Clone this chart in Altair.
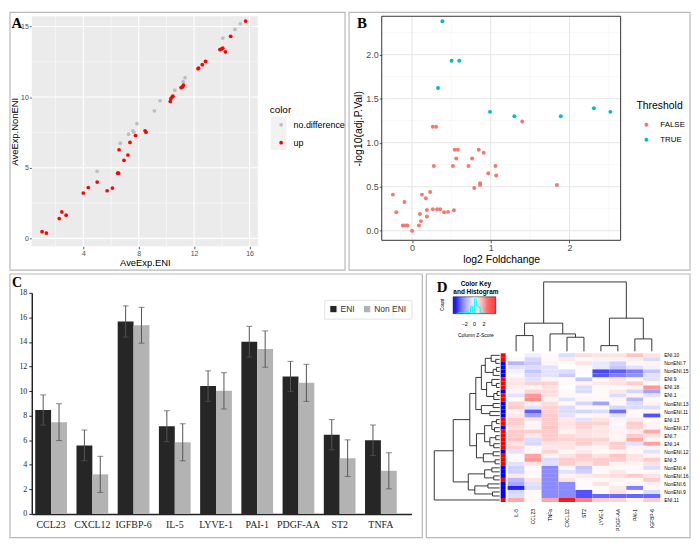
import altair as alt
import pandas as pd

# ---------------- Panel A: AveExp scatter ----------------
a_up_x = [1.02, 1.33, 2.26, 2.45, 2.76, 4.00, 4.36, 5.00, 5.72, 6.10, 6.48, 6.55, 6.58, 6.94, 7.22, 7.37, 7.77, 8.46,
          8.53, 10.28, 10.32, 10.42, 10.47, 11.06, 11.16, 11.23, 12.28, 12.33, 12.59, 12.83, 13.86, 13.98, 14.07,
          14.26, 14.64, 15.72]
a_up_y = [0.47, 0.37, 1.40, 1.87, 1.64, 3.21, 3.60, 3.98, 3.37, 3.56, 4.61, 4.61, 6.27, 5.52, 5.90, 6.79, 7.28, 7.61,
          7.51, 9.69, 9.90, 10.02, 10.06, 10.67, 10.72, 10.84, 12.01, 12.05, 12.29, 12.52, 13.36, 13.41, 13.46,
          13.20, 14.30, 15.38]
a_nd_x = [5.00, 6.67, 7.27, 7.58, 7.65, 7.87, 9.13, 9.54, 10.61, 11.21, 11.35, 14.07, 14.95, 15.34]
a_nd_y = [4.75, 6.74, 7.37, 7.61, 7.51, 8.12, 9.03, 9.74, 10.48, 11.09, 11.37, 14.18, 14.79, 15.19]
a_major_x = [4, 8, 12, 16]
a_minor_x = [2, 6, 10, 14]
a_major_y = [0, 5, 10, 15]
a_minor_y = [2.5, 7.5, 12.5]

# ---------------- Panel B: volcano ----------------
b_true_x = [0.386, 0.503, 0.60, 0.33, 0.99, 1.30, 1.89, 2.31, 2.52]
b_true_y = [2.38, 1.93, 1.93, 1.62, 1.35, 1.30, 1.30, 1.39, 1.35]
b_false_x = [1.40, 0.264, 0.306, 0.541, 0.583, 0.562, 0.847, 0.91, 0.763, 0.277, 0.52, 0.717, 1.06, 0.969, 1.07,
             0.79, 0.864, 0.864, 1.84, -0.243, -0.20, -0.096, -0.117, -0.088, -0.059, 0.0, 0.088, 0.10, 0.113,
             0.126, 0.176, 0.189, 0.189, 0.23, 0.264, 0.319, 0.356, 0.407, 0.457, 0.532]
b_false_y = [1.24, 1.18, 1.18, 0.92, 0.92, 0.82, 0.92, 0.885, 0.82, 0.735, 0.735, 0.735, 0.735, 0.653, 0.627,
             0.484, 0.54, 0.52, 0.52, 0.41, 0.21, 0.326, 0.06, 0.06, 0.06, 0.0, 0.06, 0.19, 0.109, 0.41, 0.368,
             0.236, 0.161, 0.44, 0.244, 0.244, 0.244, 0.21, 0.214, 0.233]
b_major_x = [0, 1, 2]
b_minor_x = [0.5, 1.5, 2.5]
b_major_y = [0.0, 0.5, 1.0, 1.5, 2.0]
b_minor_y = [0.25, 0.75, 1.25, 1.75, 2.25]

# ---------------- Panel C: bar chart ----------------
c_genes = ['CCL23', 'CXCL12', 'IGFBP-6', 'IL-5', 'LYVE-1', 'PAI-1', 'PDGF-AA', 'ST2', 'TNFA']
c_eni = [8.46, 5.58, 15.67, 7.14, 10.41, 14.02, 11.19, 6.45, 6.00]
c_non = [7.47, 3.22, 15.36, 5.83, 10.02, 13.42, 10.67, 4.54, 3.51]
c_eni_err = [1.23, 1.25, 1.27, 1.26, 1.24, 1.25, 1.23, 1.23, 1.24]
c_non_err = [1.50, 1.47, 1.46, 1.51, 1.48, 1.48, 1.51, 1.49, 1.47]
c_yticks = [0, 2, 4, 6, 8, 10, 12, 14, 16, 18]

# ---------------- Panel D: heatmap ----------------
hm_cols = ['IL-5', 'CCL23', 'TNFa', 'CXCL12', 'ST2', 'LYVE-1', 'PDGF-AA', 'PAI-1', 'IGFBP-6']
hm_rows = ['ENI.10', 'ENI.2', 'NonENI.7', 'NonENI.1', 'NonENI.15', 'NonENI.2', 'ENI.9', 'ENI.4', 'ENI.18',
           'NonENI.3', 'ENI.1', 'ENI.5', 'NonENI.13', 'NonENI.5', 'NonENI.11', 'NonENI.8', 'ENI.13', 'ENI.6',
           'NonENI.17', 'ENI.8', 'ENI.7', 'ENI.12', 'ENI.14', 'ENI.15', 'NonENI.12', 'ENI.16', 'ENI.3', 'ENI.17',
           'NonENI.4', 'NonENI.10', 'NonENI.16', 'ENI.19', 'NonENI.6', 'NonENI.14', 'NonENI.9', 'NonENI.18',
           'ENI.11']
hm_z = [
    [0.0, -0.3, 0.1, -0.6, 0.6, 0.5, 0.5, 1.0, 0.5],
    [0.1, -0.7, 0.1, 0.4, 0.1, 0.2, 0.2, 0.3, -0.6],
    [-1.3, -0.9, 0.2, 0.1, 0.5, -0.4, -0.8, 0.1, 0.2],
    [-0.5, -0.6, -0.5, 0.0, 0.1, -0.4, -1.0, -0.5, -0.2],
    [-0.2, -1.0, -0.5, -0.6, 0.1, -3.2, -2.8, -2.2, -1.0],
    [-0.1, -0.7, -0.5, -0.9, 0.0, -2.9, -2.2, -1.9, -0.5],
    [0.4, -0.5, 0.2, 0.1, -1.0, -0.1, 0.5, 0.1, -0.5],
    [0.5, 0.8, 0.8, 0.1, 0.2, 0.4, 0.5, 0.9, 0.1],
    [0.3, 0.2, 0.5, 0.0, -0.6, 0.1, 0.1, 0.2, 1.8],
    [0.2, 0.7, 0.6, 0.1, -0.6, 0.1, 0.4, -0.7, -1.6],
    [-0.5, 1.8, 0.5, 0.1, 0.1, 0.1, -0.6, 0.2, -0.5],
    [0.1, 2.0, 0.2, -0.5, 0.2, 0.1, 0.2, -1.2, 0.1],
    [0.8, 0.2, 0.6, 0.1, -0.7, -1.6, 0.1, -0.6, 0.2],
    [0.9, -0.5, 0.8, -0.6, 0.1, 0.1, -0.7, -0.6, -0.6],
    [0.2, -2.8, 0.8, -0.6, -0.7, -0.6, -2.5, 0.1, 0.2],
    [0.4, -1.6, 0.9, -0.5, 0.1, 0.2, -0.5, 0.1, -3.0],
    [0.9, 0.5, 0.9, 0.4, -0.5, 0.5, 0.2, 0.4, 0.1],
    [0.9, 0.1, 0.9, 0.5, 0.8, 0.8, 0.1, 0.9, 0.2],
    [0.6, 0.2, 1.0, 0.4, 0.8, 0.4, 0.2, 0.8, 0.2],
    [0.9, 0.9, 0.9, 0.2, 0.5, 0.5, 0.2, 0.3, 1.5],
    [0.9, 0.4, 0.9, 0.6, 0.5, 0.4, 0.2, 0.9, 0.5],
    [1.0, -0.6, 0.9, 0.8, 0.8, 0.8, 0.2, 1.5, 0.2],
    [0.5, -0.7, 0.5, 0.5, 0.9, 0.5, 0.9, -0.5, 1.6],
    [0.8, 0.1, 0.4, 0.5, 0.2, 0.2, 0.8, 0.2, 0.2],
    [-0.5, 0.1, 0.8, 0.1, 0.4, 0.1, 0.2, 0.1, -0.5],
    [0.1, 1.6, 0.2, 0.5, 0.9, 0.5, 1.0, 0.5, 0.2],
    [0.1, 1.8, -0.6, 0.9, 0.8, 0.9, 0.9, 0.5, 0.9],
    [-0.5, 0.5, -0.5, 0.9, 0.5, 0.9, 0.2, 0.2, 0.5],
    [-0.8, 0.1, -2.0, 0.1, -1.0, 0.1, 0.1, 0.1, -0.6],
    [-0.8, 0.1, -2.0, -0.5, -0.8, 0.1, 0.4, 0.1, 0.1],
    [0.4, 0.1, -2.0, 0.2, 0.4, 0.5, 0.6, 0.9, 0.5],
    [-1.2, 0.5, -2.0, 0.5, 0.1, 0.1, 0.2, 0.1, 0.9],
    [-1.5, -0.5, -2.0, -2.0, 0.1, 0.5, 0.1, 0.2, 0.2],
    [-3.8, -0.6, -2.0, -2.0, 0.1, 0.1, 0.4, -2.2, 0.1],
    [-0.7, 0.1, -2.0, -2.0, -3.0, 0.1, 0.5, 0.1, -0.6],
    [-0.6, 0.1, -2.0, -2.0, -3.0, -2.6, -2.6, -2.6, -2.6],
    [1.5, 0.1, 1.5, 4.0, 2.2, 0.9, 0.8, 0.2, 0.9],
]
# dendrograms: [height, left, right], leaves are row / column indices
row_tree = [10.0,
            [7.1,
             [4.57,
              [3.65,
               [2.8,
                [2.2, [1.3, 0, [0.6, 1, 2]], [1.0, [0.5, 3, 4], 5]],
                [2.0, [1.2, 6, [0.5, 7, 8]], [0.9, [0.4, 9, 10], 11]]],
               [2.8, [1.0, 12, 13], [1.5, 14, 15]]],
              [3.55,
               [2.3, [1.2, [0.5, 16, 17], [0.8, 18, 19]], [1.5, [0.6, 20, 21], [0.9, 22, 23]]],
               [2.5, [1.0, 24, 25], [0.7, 26, 27]]]],
             [4.8,
              [2.3, [1.2, 28, 29], [0.9, 30, 31]],
              [3.8, [1.8, 32, 33], [1.1, 34, 35]]]],
            36]
col_tree = [10.0, [4.06, [2.27, 0, 1], [2.51, 2, [2.03, 3, 4]]], [4.78, [0.82, 5, 6], [1.79, 7, 8]]]
key_ticks = [-2, 0, 2]

# ---------------- helpers ----------------
FONT = 'Liberation Sans'
SERIF = 'Liberation Serif'
FRAME = '#b8b8b8'
dummy = alt.Data(values=[{'k': 0}])


def frame(l, r, t, b, color=FRAME, width=1.2):
    return alt.Chart(dummy).mark_rect(fillOpacity=0, stroke=color, strokeWidth=width).encode(
        x=alt.value(l), x2=alt.value(r), y=alt.value(t), y2=alt.value(b))


def bg(l, r, t, b, color):
    return alt.Chart(dummy).mark_rect(fill=color).encode(
        x=alt.value(l), x2=alt.value(r), y=alt.value(t), y2=alt.value(b))


def label(txt, x, y, size=15, font=SERIF, weight='bold', angle=0, align='center', color='black'):
    return alt.Chart(dummy).mark_text(text=txt, font=font, fontSize=size, fontWeight=weight, angle=angle,
                                      align=align, baseline='middle', color=color).encode(
        x=alt.value(x), y=alt.value(y))


def dendro_segments(tree):
    segs = []

    def walk(node):
        if isinstance(node, int):
            return float(node), 0.0
        h, left, right = node
        pl, hl = walk(left)
        pr, hr = walk(right)
        segs.append(dict(p=pl, p2=pl, h=hl, h2=h))
        segs.append(dict(p=pr, p2=pr, h=hr, h2=h))
        segs.append(dict(p=pl, p2=pr, h=h, h2=h))
        return (pl + pr) / 2, h

    walk(tree)
    return pd.DataFrame(segs)


# ================= Panel A (plot origin at page 30,12) =================
WA, HA = 228, 232
a_df = pd.DataFrame({'x': a_nd_x + a_up_x, 'y': a_nd_y + a_up_y,
                     'color': ['no.difference'] * len(a_nd_x) + ['up'] * len(a_up_x)})
ax_s = alt.Scale(domain=[0.28, 16.6], nice=False, zero=False)
ay_s = alt.Scale(domain=[-0.56, 15.72], nice=False, zero=False)
a_ax = dict(labelFont=FONT, labelFontSize=7, labelColor='#4d4d4d', tickColor='#333333', tickSize=2.5,
            tickWidth=0.8, labelPadding=1, domain=False, grid=False, titleFont=FONT, titleFontSize=9.5,
            titleFontWeight='normal', titleColor='black', titlePadding=1)
a_xaxis = alt.Axis(values=a_major_x, title='AveExp.ENI', **a_ax)
a_yaxis = alt.Axis(values=a_major_y, title='AveExp.NonENI', **a_ax)
a_layers = [
    bg(0, WA, 0, HA, '#EBEBEB'),
    alt.Chart(pd.DataFrame({'v': a_minor_x})).mark_rule(color='white', strokeWidth=0.5).encode(
        x=alt.X('v:Q', scale=ax_s, axis=a_xaxis)),
    alt.Chart(pd.DataFrame({'v': a_minor_y})).mark_rule(color='white', strokeWidth=0.5).encode(
        y=alt.Y('v:Q', scale=ay_s, axis=a_yaxis)),
    alt.Chart(pd.DataFrame({'v': a_major_x})).mark_rule(color='white', strokeWidth=1.1).encode(
        x=alt.X('v:Q', scale=ax_s, axis=a_xaxis)),
    alt.Chart(pd.DataFrame({'v': a_major_y})).mark_rule(color='white', strokeWidth=1.1).encode(
        y=alt.Y('v:Q', scale=ay_s, axis=a_yaxis)),
    bg(241, 257, 101, 135, '#F2F2F2'),
    alt.Chart(a_df).mark_circle(size=14, opacity=1).encode(
        x=alt.X('x:Q', scale=ax_s, axis=a_xaxis),
        y=alt.Y('y:Q', scale=ay_s, axis=a_yaxis),
        color=alt.Color('color:N', scale=alt.Scale(domain=['no.difference', 'up'], range=['#BEBEBE', '#FF0000']),
                        legend=alt.Legend(orient='none', legendX=240, legendY=90, title='color', titleFont=FONT,
                                          titleFontSize=10, titleFontWeight='normal', titleColor='black',
                                          labelFont=FONT, labelFontSize=9, labelColor='black',
                                          symbolType='circle', symbolSize=14, symbolOffset=7, labelOffset=8,
                                          rowPadding=8, titlePadding=5, padding=0, symbolStrokeWidth=0))),
    label('A', -15, 7),
    frame(-22, 316, -4, 256),
]
panel_a = alt.layer(*a_layers).properties(width=WA, height=HA)

# ================= Panel B (plot origin at page 383,12) =================
WB, HB = 241, 226
b_df = pd.DataFrame({'x': b_false_x + b_true_x, 'y': b_false_y + b_true_y,
                     'Threshold': ['FALSE'] * len(b_false_x) + ['TRUE'] * len(b_true_x)})
bx_s = alt.Scale(domain=[-0.385, 2.65], nice=False, zero=False)
by_s = alt.Scale(domain=[-0.109, 2.436], nice=False, zero=False)
b_ax = dict(labelFont=FONT, labelFontSize=9, labelColor='#4d4d4d', tickColor='#333333', tickSize=2.5,
            tickWidth=0.8, labelPadding=1, domain=False, grid=False, titleFont=FONT, titleFontSize=10.5,
            titleFontWeight='normal', titleColor='black', titlePadding=2)
b_xaxis = alt.Axis(values=b_major_x, title='log2 Foldchange', **b_ax)
b_yaxis = alt.Axis(values=b_major_y, format='.1f', title='-log10(adj.P.Val)', **b_ax)
b_layers = [
    alt.Chart(pd.DataFrame({'v': b_minor_x})).mark_rule(color='#F0F0F0', strokeWidth=0.5).encode(
        x=alt.X('v:Q', scale=bx_s, axis=b_xaxis)),
    alt.Chart(pd.DataFrame({'v': b_minor_y})).mark_rule(color='#F0F0F0', strokeWidth=0.5).encode(
        y=alt.Y('v:Q', scale=by_s, axis=b_yaxis)),
    alt.Chart(pd.DataFrame({'v': b_major_x})).mark_rule(color='#E6E6E6', strokeWidth=1).encode(
        x=alt.X('v:Q', scale=bx_s, axis=b_xaxis)),
    alt.Chart(pd.DataFrame({'v': b_major_y})).mark_rule(color='#E6E6E6', strokeWidth=1).encode(
        y=alt.Y('v:Q', scale=by_s, axis=b_yaxis)),
    alt.Chart(b_df).mark_circle(size=16, opacity=1).encode(
        x=alt.X('x:Q', scale=bx_s, axis=b_xaxis),
        y=alt.Y('y:Q', scale=by_s, axis=b_yaxis),
        color=alt.Color('Threshold:N', scale=alt.Scale(domain=['FALSE', 'TRUE'], range=['#F8766D', '#00BFC4']),
                        legend=alt.Legend(orient='none', legendX=257, legendY=86, title='Threshold',
                                          titleFont=FONT, titleFontSize=10.5, titleFontWeight='normal',
                                          titleColor='black', labelFont=FONT, labelFontSize=8,
                                          labelColor='black', symbolType='circle', symbolSize=16,
                                          symbolOffset=6, labelOffset=10, rowPadding=7, titlePadding=9,
                                          padding=0, symbolStrokeWidth=0))),
    frame(0, WB, 0, HB, color='#333333', width=1),
    label('B', -20, 7),
    frame(-33, 311, -4, 256),
]
panel_b = alt.layer(*b_layers).properties(width=WB, height=HB)

# ================= Panel C (plot origin at page 30,291) =================
# declared width equals A's so the grid columns line up; the band scale spans 383px explicitly
WC_DECL, WC, HC = 228, 383, 223
c_df = pd.DataFrame({'gene': c_genes * 2, 'group': ['ENI'] * 9 + ['Non ENI'] * 9,
                     'value': c_eni + c_non, 'err': c_eni_err + c_non_err})
cx = alt.X('gene:N', sort=c_genes,
           scale=alt.Scale(range=[0, WC], paddingInner=0.23, paddingOuter=0.22, align=0.19),
           axis=alt.Axis(title=None, labelAngle=0, labelFont=SERIF, labelFontSize=10, labelColor='#222222',
                         ticks=False, domainColor='#222222', domainWidth=1.5, labelPadding=6))
cxo = alt.XOffset('group:N', sort=['ENI', 'Non ENI'], scale=alt.Scale(paddingInner=0, paddingOuter=0))
cy_s = alt.Scale(domain=[0, 18], nice=False, zero=True)
c_yaxis = alt.Axis(values=c_yticks, title=None, labelFont=SERIF, labelFontSize=8, labelColor='#222222',
                   tickSize=3, tickColor='#222222', domainColor='#222222', domainWidth=1.5, grid=False,
                   labelPadding=2)
c_base = alt.Chart(c_df).encode(x=cx, xOffset=cxo)
c_err = c_base.transform_calculate(lo='datum.value - datum.err', hi='datum.value + datum.err')
c_layers = [
    c_base.mark_bar().encode(
        y=alt.Y('value:Q', scale=cy_s, axis=c_yaxis),
        color=alt.Color('group:N', scale=alt.Scale(domain=['ENI', 'Non ENI'], range=['#262626', '#b3b3b3']),
                        legend=alt.Legend(orient='none', direction='horizontal', legendX=295, legendY=7,
                                          title=None, symbolType='square', symbolSize=40, labelFont=FONT,
                                          labelFontSize=8.5, labelColor='#333333', fillColor='white',
                                          strokeColor='#e2e2e2', padding=5, columnPadding=8, labelOffset=3,
                                          symbolStrokeWidth=0))),
    c_err.mark_rule(color='#555555', strokeWidth=1).encode(
        y=alt.Y('lo:Q', scale=cy_s, axis=c_yaxis), y2='hi:Q'),
    c_err.mark_tick(color='#555555', thickness=1, size=6).encode(y=alt.Y('lo:Q', scale=cy_s, axis=c_yaxis)),
    c_err.mark_tick(color='#555555', thickness=1, size=6).encode(y=alt.Y('hi:Q', scale=cy_s, axis=c_yaxis)),
    label('C', -15, -10, size=14),
    frame(-22, 394, -19, 247),
]
panel_c = alt.layer(*c_layers).properties(width=WC_DECL, height=HC)

# ================= Panel D (origin shared with B's column: page 383,291; frame at page 428..694, 272..538) ====
DX, DY = 45, -19
WD, HD = 241, 247
heat_df = pd.DataFrame([{'row': r, 'col': c, 'z': hm_z[i][j]}
                        for i, r in enumerate(hm_rows) for j, c in enumerate(hm_cols)])
row_df = pd.DataFrame({'row': hm_rows, 'ri': list(range(len(hm_rows))),
                       'group': ['ENI' if r.startswith('ENI') else 'NonENI' for r in hm_rows]})
col_df = pd.DataFrame({'col': hm_cols})
row_seg = dendro_segments(row_tree)
col_seg = dendro_segments(col_tree)

hx = alt.Scale(domain=hm_cols, range=[82 + DX, 236 + DX], paddingInner=0, paddingOuter=0)
hy = alt.Scale(domain=hm_rows, range=[80 + DY, 230 + DY], paddingInner=0, paddingOuter=0)
zcol = alt.Scale(domain=[-4.4, 0, 4.4], range=['#0000FF', '#FFFFFF', '#FF0000'], interpolate='rgb')
key_x = alt.Scale(domain=[-4.4, 4.4], range=[27 + DX, 70 + DX], nice=False, zero=False, clamp=True)

d_layers = [
    frame(DX, 266 + DX, DY, HD),
    alt.Chart(col_seg).mark_rule(color='#222222', strokeWidth=0.9).encode(
        x=alt.X('p:Q', scale=alt.Scale(domain=[-0.5, 8.5], range=[82 + DX, 236 + DX], nice=False, zero=False),
                axis=None),
        x2='p2:Q',
        y=alt.Y('h:Q', scale=alt.Scale(domain=[0, 10], range=[78 + DY, 8 + DY], nice=False, zero=False),
                axis=None),
        y2='h2:Q'),
    alt.Chart(row_seg).mark_rule(color='#222222', strokeWidth=0.9).encode(
        x=alt.X('h:Q', scale=alt.Scale(domain=[0, 10], range=[74 + DX, 8 + DX], nice=False, zero=False),
                axis=None),
        x2='h2:Q',
        y=alt.Y('p:Q', scale=alt.Scale(domain=[-0.5, 36.5], range=[80 + DY, 230 + DY], nice=False, zero=False),
                axis=None),
        y2='p2:Q'),
    alt.Chart(row_df).mark_rect().encode(
        y=alt.Y('row:N', scale=hy, axis=None), x=alt.value(75 + DX), x2=alt.value(80 + DX),
        fill=alt.Fill('group:N', scale=alt.Scale(domain=['ENI', 'NonENI'], range=['#FF0000', '#0000FF']),
                      legend=None)),
    alt.Chart(heat_df).mark_rect().encode(
        x=alt.X('col:N', scale=hx, axis=None),
        y=alt.Y('row:N', scale=hy, axis=None),
        color=alt.Color('z:Q', scale=zcol, legend=None)),
    alt.Chart(row_df).transform_filter('datum.ri % 2 == 0').mark_text(
        align='left', baseline='middle', font=FONT, fontSize=5, color='black').encode(
        y=alt.Y('row:N', scale=hy, axis=None), x=alt.value(240 + DX), text='row:N'),
    alt.Chart(col_df).mark_text(angle=270, align='right', baseline='middle', font=FONT, fontSize=5,
                                color='black').encode(
        x=alt.X('col:N', scale=hx, axis=None), y=alt.value(237 + DY), text='col:N'),
    alt.Chart(alt.sequence(-4.4, 4.4, 0.2, as_='v')).transform_calculate(v2='datum.v + 0.2').mark_rect().encode(
        x=alt.X('v:Q', scale=key_x, axis=None), x2='v2:Q', y=alt.value(23 + DY), y2=alt.value(40 + DY),
        color=alt.Color('v:Q', scale=zcol, legend=None)),
    alt.Chart(heat_df).transform_bin(as_=['b0', 'b1'], field='z', bin=alt.Bin(step=0.4, extent=[-4.4, 4.4]))
    .transform_aggregate(n='count()', groupby=['b0', 'b1'])
    .transform_calculate(m='(datum.b0 + datum.b1) / 2')
    .mark_line(color='#00FFFF', strokeWidth=1, interpolate='step').encode(
        x=alt.X('m:Q', scale=key_x, axis=None),
        y=alt.Y('n:Q', scale=alt.Scale(range=[40 + DY, 25 + DY], zero=True, nice=False), axis=None)),
    frame(27 + DX, 70 + DX, 23 + DY, 40 + DY, color='#333333', width=0.6),
    alt.Chart(pd.DataFrame({'t': key_ticks})).mark_text(font=FONT, fontSize=5.5, baseline='middle',
                                                         color='black').encode(
        x=alt.X('t:Q', scale=key_x, axis=None), y=alt.value(50.5 + DY), text='t:Q'),
    label('Color Key', 50 + DX, 10 + DY, size=6.5, font=FONT),
    label('and Histogram', 50 + DX, 18.5 + DY, size=6.5, font=FONT),
    label('Count', 17 + DX, 31 + DY, size=4.5, font=FONT, weight='normal', angle=270),
    label('Column Z-Score', 50 + DX, 62 + DY, size=5, font=FONT, weight='normal'),
    label('D', 16 + DX, 13 + DY),
]
panel_d = alt.layer(*d_layers).resolve_scale(
    x='independent', y='independent', color='independent', fill='independent'
).properties(width=WD, height=HD)

# grid: column 0 (A, C) at page x 30, column 1 (B, D) at page x 383
chart = alt.concat(
    panel_a, panel_b, panel_c, panel_d,
    columns=2, bounds='flush', align='each',
    spacing={'row': 47, 'column': 125}
).resolve_scale(
    color='independent', fill='independent'
).properties(padding=0, background='white').configure_view(stroke='transparent')

chart.save('out.html', embed_options={'renderer': 'svg', 'actions': False})
